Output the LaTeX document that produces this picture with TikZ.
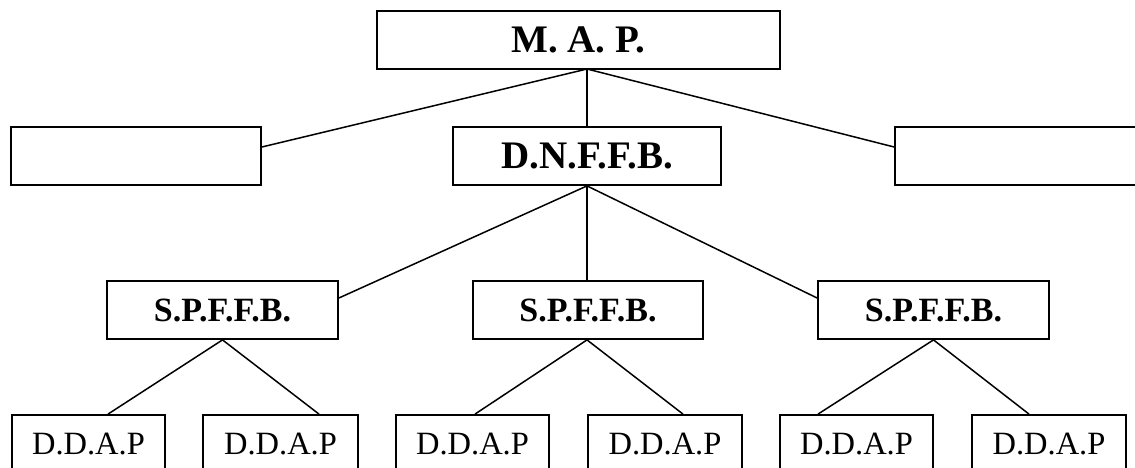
\documentclass[tikz,border=0pt]{standalone}
\usepackage{fontspec}
\setmainfont{Liberation Serif}

\begin{document}
\begin{tikzpicture}[
  x=1pt,
  y=-1pt,
  line join=miter,
  box/.style={draw=black,line width=1.8pt,inner sep=0pt,minimum height=58pt},
  headbox/.style={box,font=\fontsize{39}{42}\selectfont\bfseries},
  unitbox/.style={box,font=\fontsize{34}{38}\selectfont\bfseries},
  leafbox/.style={box,minimum width=153pt,font=\fontsize{32.5}{36}\selectfont},
  link/.style={draw=black,line width=1.5pt}
]
  % Page frame; the right blank box and the bottom row run past the edge.
  \useasboundingbox (0,0) rectangle (1135,468);
  \clip (0,0) rectangle (1135,468);

  % Top level and the three boxes below it.
  \node[headbox,minimum width=403pt] (map) at (578.5,40) {M. A. P.};
  \node[box,minimum width=250pt] (blankleft) at (136,156) {};
  \node[headbox,minimum width=268pt] (dnffb) at (587,156) {D.N.F.F.B.};
  \node[box,minimum width=250pt] (blankright) at (1020,156) {};

  % Middle level.
  \node[unitbox,minimum width=231pt] (spa) at (222.5,310) {S.P.F.F.B.};
  \node[unitbox,minimum width=230pt] (spb) at (588,310) {S.P.F.F.B.};
  \node[unitbox,minimum width=231pt] (spc) at (933.5,310) {S.P.F.F.B.};

  % Bottom level, two under each S.P.F.F.B.
  \node[leafbox] (dda) at (88.5,444) {D.D.A.P};
  \node[leafbox,minimum width=155pt] (ddb) at (280.5,444) {D.D.A.P};
  \node[leafbox] (ddc) at (472.5,444) {D.D.A.P};
  \node[leafbox,minimum width=154pt] (ddd) at (665,444) {D.D.A.P};
  \node[leafbox] (dde) at (856.5,444) {D.D.A.P};
  \node[leafbox,minimum width=154pt] (ddf) at (1049,444) {D.D.A.P};

  % Branch points that are not on a node anchor.
  \coordinate (mapfoot) at (587,69);

  % Connectors from M. A. P.
  \draw[link] (mapfoot) -- ([yshift=9pt]blankleft.east);
  \draw[link] (mapfoot) -- (dnffb.north);
  \draw[link] (mapfoot) -- ([yshift=9pt]blankright.west);

  % Connectors from D.N.F.F.B.
  \draw[link] (dnffb.south) -- ([yshift=12pt]spa.east);
  \draw[link] (dnffb.south) -- ([xshift=-1pt]spb.north);
  \draw[link] (dnffb.south) -- ([yshift=12pt]spc.west);

  % Connectors down to the D.D.A.P boxes.
  \draw[link] (spa.south) -- ([xshift=19.5pt]dda.north);
  \draw[link] (spa.south) -- ([xshift=38.5pt]ddb.north);
  \draw[link] ([xshift=-1pt]spb.south) -- ([xshift=2.5pt]ddc.north);
  \draw[link] ([xshift=-1pt]spb.south) -- ([xshift=18pt]ddd.north);
  \draw[link] (spc.south) -- ([xshift=-38.5pt]dde.north);
  \draw[link] (spc.south) -- ([xshift=-20pt]ddf.north);
\end{tikzpicture}
\end{document}
